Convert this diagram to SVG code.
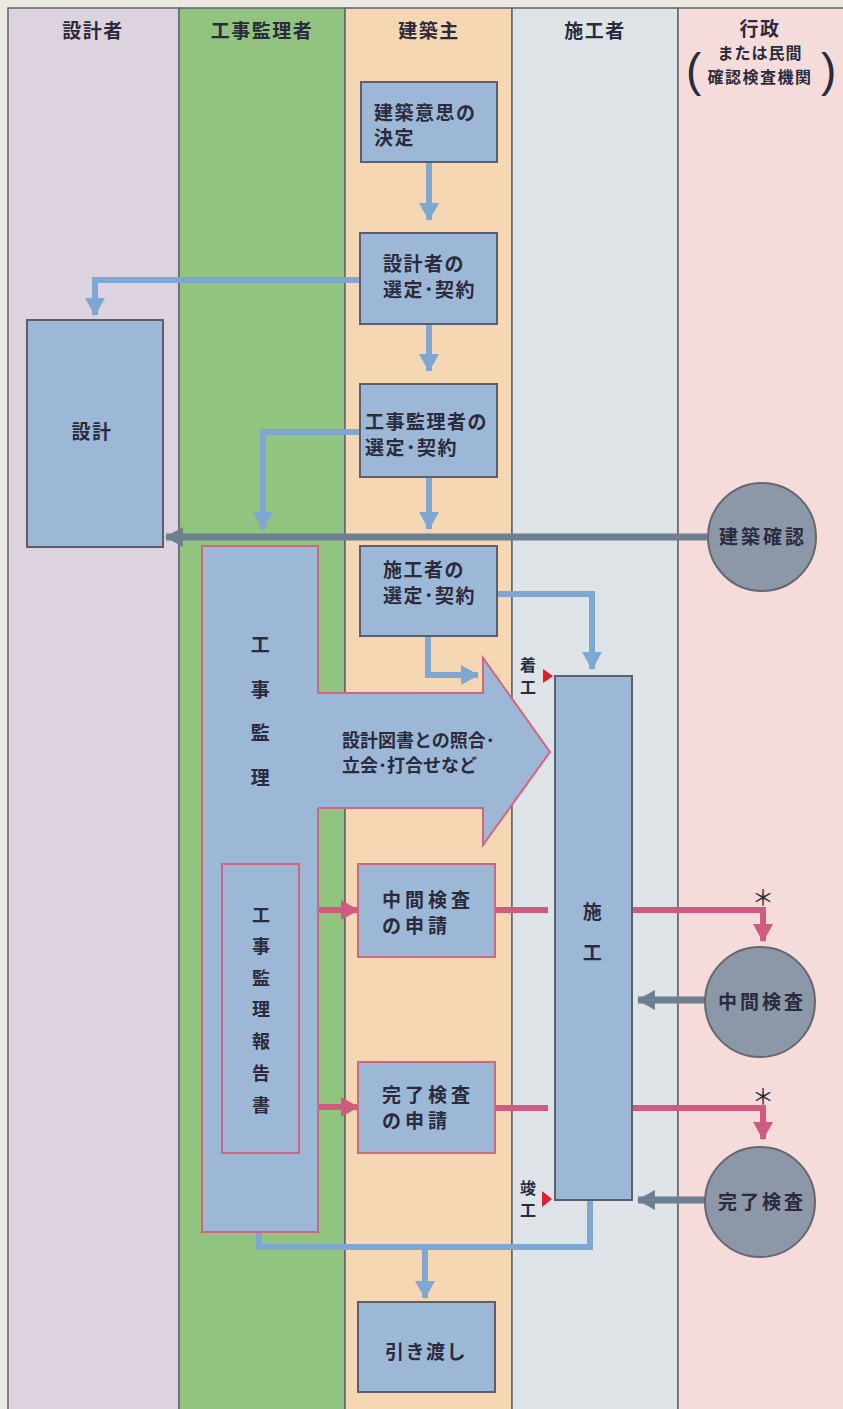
<svg xmlns="http://www.w3.org/2000/svg" width="843" height="1409" viewBox="0 0 843 1409">
<style>
.lane{stroke:#5e666c;stroke-width:1.5}
.box{fill:#9db8d6;stroke:#5a5e6e;stroke-width:2}
.pbox{fill:#9db8d6;stroke:#d2657f;stroke-width:2}
.t{font-family:"Noto Sans CJK JP","Noto Sans",sans-serif;font-weight:bold;fill:#2a2b3c;font-size:18px}
.h{font-size:19px;letter-spacing:1.5px}
.c{text-anchor:middle}
.blue{fill:none;stroke:#7fa7d3;stroke-width:6}
.gray{fill:none;stroke:#6e7f92;stroke-width:7}
.pink{fill:none;stroke:#cf5c7e;stroke-width:6}
.circ{fill:#8c97a8;stroke:#66676f;stroke-width:2}
.ast{font-family:"Noto Sans CJK JP",sans-serif;font-size:22px;fill:#2a2b3c;text-anchor:middle}
</style>
<defs>
<marker id="ab" markerUnits="userSpaceOnUse" markerWidth="22" markerHeight="22" viewBox="0 0 22 22" refX="17" refY="11" orient="auto"><path d="M0,1 L18,11 L0,21 Z" fill="#7fa7d3"/></marker>
<marker id="ag" markerUnits="userSpaceOnUse" markerWidth="22" markerHeight="22" viewBox="0 0 22 22" refX="17" refY="11" orient="auto"><path d="M0,1 L18,11 L0,21 Z" fill="#6e7f92"/></marker>
<marker id="ap" markerUnits="userSpaceOnUse" markerWidth="22" markerHeight="22" viewBox="0 0 22 22" refX="17" refY="11" orient="auto"><path d="M0,1 L18,11 L0,21 Z" fill="#cf5c7e"/></marker>
</defs>
<rect x="0" y="0" width="843" height="1409" fill="#ece9e3"/>
<g id="lanes">
<rect class="lane" x="8" y="8" width="171" height="1410" fill="#ddd3df"/>
<rect class="lane" x="179" y="8" width="166" height="1410" fill="#91c47f"/>
<rect class="lane" x="345" y="8" width="167" height="1410" fill="#f5d7b4"/>
<rect class="lane" x="512" y="8" width="166" height="1410" fill="#dde3e7"/>
<rect class="lane" x="678" y="8" width="170" height="1410" fill="#f5dcdb"/>
<text class="t h c" x="93" y="38">設計者</text>
<text class="t h c" x="262" y="38">工事監理者</text>
<text class="t h c" x="429" y="38">建築主</text>
<text class="t h c" x="595" y="38">施工者</text>
<text class="t h c" x="760" y="36">行政</text>
<text class="t c" x="760" y="59" style="font-size:16px;letter-spacing:1px">または民間</text>
<text class="t c" x="760" y="83" style="font-size:16px;letter-spacing:1.5px">確認検査機関</text>
<text class="t" x="686" y="86" style="font-size:46px;font-weight:normal;font-family:'Liberation Sans',sans-serif">(</text>
<text class="t" x="821" y="86" style="font-size:46px;font-weight:normal;font-family:'Liberation Sans',sans-serif">)</text>
</g>
<g id="connectors">
<path class="blue" d="M429,162 V220" marker-end="url(#ab)"/>
<path class="blue" d="M361,280 H95 V315" marker-end="url(#ab)"/>
<path class="blue" d="M429,324 V371" marker-end="url(#ab)"/>
<path class="blue" d="M361,432 H263 V529" marker-end="url(#ab)"/>
<path class="blue" d="M429,477 V529" marker-end="url(#ab)"/>
<path class="gray" d="M707,537 H166" marker-end="url(#ag)"/>
<path class="blue" d="M497,594 H592 V669" marker-end="url(#ab)"/>
<path class="blue" d="M428,636 V675 H478" marker-end="url(#ab)"/>
<path class="pink" d="M318,910 H358" marker-end="url(#ap)"/>
<path class="pink" d="M299,1107 H358" marker-end="url(#ap)"/>
<path class="pink" d="M495,910 H548"/>
<path class="pink" d="M495,1108 H548"/>
<path class="pink" d="M632,910 H763 V941" marker-end="url(#ap)"/>
<path class="pink" d="M632,1108 H763 V1139" marker-end="url(#ap)"/>
<path class="gray" d="M706,1000 H638" marker-end="url(#ag)"/>
<path class="gray" d="M706,1200 H638" marker-end="url(#ag)"/>
<path class="blue" d="M259,1232 V1247 H590 V1200"/>
<path class="blue" d="M425,1247 V1298" marker-end="url(#ab)"/>
<path d="M543,669 L553,676 L543,683 Z" fill="#e11f2a"/>
<path d="M542,1191 L552,1199 L542,1207 Z" fill="#e11f2a"/>
<text class="ast" x="763" y="905">＊</text>
<text class="ast" x="763" y="1104">＊</text>
<text class="t c" x="528" y="671" style="font-size:16px">着</text>
<text class="t c" x="528" y="693" style="font-size:16px">工</text>
<text class="t c" x="528" y="1194" style="font-size:16px">竣</text>
<text class="t c" x="528" y="1216" style="font-size:16px">工</text>
</g>
<g id="n-ishi">
<rect class="box" x="361" y="82" width="136" height="80"/>
<text class="t h" x="374" y="120">建築意思の</text>
<text class="t h" x="374" y="145">決定</text>
</g>
<g id="n-sekkeisha">
<rect class="box" x="360" y="233" width="137" height="91"/>
<text class="t h" x="383" y="271">設計者の</text>
<text class="t h" x="383" y="297">選定･契約</text>
</g>
<g id="n-sekkei">
<rect class="box" x="27" y="320" width="136" height="227"/>
<text class="t h c" x="92" y="439">設計</text>
</g>
<g id="n-kanrisha">
<rect class="box" x="360" y="384" width="137" height="93"/>
<text class="t h" x="365" y="429">工事監理者の</text>
<text class="t h" x="365" y="455">選定･契約</text>
</g>
<g id="n-kakunin">
<circle class="circ" cx="762" cy="537" r="54"/>
<text class="t c" x="763" y="544" style="font-size:19px;letter-spacing:3px">建築確認</text>
</g>
<g id="n-sekousha">
<rect class="box" x="360" y="546" width="137" height="90"/>
<text class="t h" x="383" y="577">施工者の</text>
<text class="t h" x="383" y="603">選定･契約</text>
</g>
<g id="n-kanri">
<rect class="pbox" x="202" y="546" width="116" height="686"/>
<text class="t h c" x="261" y="652">工</text>
<text class="t h c" x="261" y="697">事</text>
<text class="t h c" x="261" y="740">監</text>
<text class="t h c" x="261" y="785">理</text>
</g>
<g id="n-shougou">
<path d="M315,693 H483 V658 L550,752 L483,845 V808 H315 Z" fill="#9db8d6"/>
<path d="M318,693 H483 V658 L550,752 L483,845 V808 H318" fill="none" stroke="#d2657f" stroke-width="2"/>
<text class="t" x="342" y="747">設計図書との照合･</text>
<text class="t" x="342" y="772">立会･打合せなど</text>
</g>
<g id="n-houkoku">
<rect class="pbox" x="222" y="864" width="77" height="289"/>
<text class="t c" x="261" y="922">工</text>
<text class="t c" x="261" y="953">事</text>
<text class="t c" x="261" y="985">監</text>
<text class="t c" x="261" y="1016">理</text>
<text class="t c" x="261" y="1048">報</text>
<text class="t c" x="261" y="1080">告</text>
<text class="t c" x="261" y="1112">書</text>
</g>
<g id="n-sekou">
<rect class="box" x="555" y="676" width="77" height="524"/>
<text class="t h c" x="593" y="919">施</text>
<text class="t h c" x="593" y="960">工</text>
</g>
<g id="n-chukan-shinsei">
<rect class="pbox" x="358" y="864" width="137" height="93"/>
<text class="t" x="382" y="907" style="font-size:19px;letter-spacing:4px">中間検査</text>
<text class="t" x="382" y="933" style="font-size:19px;letter-spacing:4px">の申請</text>
</g>
<g id="n-chukan">
<circle class="circ" cx="760" cy="1002" r="55"/>
<text class="t c" x="762" y="1009" style="font-size:19px;letter-spacing:3px">中間検査</text>
</g>
<g id="n-kanryo-shinsei">
<rect class="pbox" x="358" y="1062" width="137" height="91"/>
<text class="t" x="382" y="1102" style="font-size:19px;letter-spacing:4px">完了検査</text>
<text class="t" x="382" y="1128" style="font-size:19px;letter-spacing:4px">の申請</text>
</g>
<g id="n-kanryo">
<circle class="circ" cx="760" cy="1202" r="55"/>
<text class="t c" x="762" y="1209" style="font-size:19px;letter-spacing:3px">完了検査</text>
</g>
<g id="n-hikiwatashi">
<rect class="box" x="358" y="1302" width="137" height="90"/>
<text class="t h c" x="426" y="1359">引き渡し</text>
</g>
</svg>
